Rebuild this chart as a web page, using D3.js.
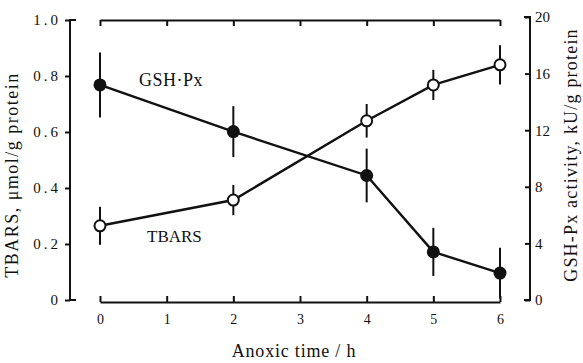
<!DOCTYPE html>
<html>
<head>
<meta charset="utf-8">
<script src="https://cdn.jsdelivr.net/npm/d3@7"></script>
<style>
  body { margin: 0; background: #fff; }
  text { font-family: "Liberation Serif", "DejaVu Serif", serif; fill: #111; }
</style>
</head>
<body>
<div id="chart"></div>
<script>
// anoxic time, h
const hours = [0, 2, 4, 5, 6];
// TBARS, umol/g protein (open circles, left axis)
const tbars = [0.265, 0.357, 0.64, 0.768, 0.84];
const tbarsErr = [0.068, 0.054, 0.06, 0.054, 0.07];
// GSH-Px activity, kU/g protein (filled circles, right axis)
const gsh = [15.2, 11.9, 8.8, 3.4, 1.9];
const gshErr = [2.3, 1.8, 1.9, 1.7, 1.8];

const xTicks = [0, 1, 2, 3, 4, 5, 6];
const leftTicks = [0, 0.2, 0.4, 0.6, 0.8, 1.0];
const rightTicks = [0, 4, 8, 12, 16, 20];

const width = 583, height = 363;

const svg = d3.select('#chart').append('svg')
    .attr('width', width)
    .attr('height', height);

const x = d3.scaleLinear().domain([0, 6]).range([100, 500]);
const yL = d3.scaleLinear().domain([0, 1]).range([300, 20]);
const yR = d3.scaleLinear().domain([0, 20]).range([300, 17]);

const ink = '#111';

// left axis
const leftAxis = svg.append('g')
    .attr('transform', 'translate(70,0)')
    .call(d3.axisLeft(yL).tickValues(leftTicks).tickSize(5).tickPadding(4)
        .tickFormat(d => d === 0 ? '0' : d3.format('.1f')(d)));
leftAxis.select('.domain').remove();
leftAxis.selectAll('text').style('font-size', '15px').style('letter-spacing', '3px');
svg.append('path')
    .attr('d', `M76,${yL(1)}H70V${yL(0)}H76`)
    .attr('fill', 'none').attr('stroke', ink).attr('stroke-width', 2);

// right axis
const rightAxis = svg.append('g')
    .attr('transform', 'translate(530,0)')
    .call(d3.axisRight(yR).tickValues(rightTicks).tickSizeInner(-5).tickSizeOuter(0).tickPadding(5));
rightAxis.select('.domain').remove();
rightAxis.selectAll('text').style('font-size', '15px');
svg.append('path')
    .attr('d', `M524,${yR(20)}H530V${yR(0)}H524`)
    .attr('fill', 'none').attr('stroke', ink).attr('stroke-width', 2);

// bottom axis
const bottomAxis = svg.append('g')
    .attr('transform', 'translate(0,302)')
    .call(d3.axisBottom(x).tickValues(xTicks).tickSizeInner(-6).tickSizeOuter(0).tickPadding(12)
        .tickFormat(d3.format('d')));
bottomAxis.selectAll('text').style('font-size', '14px');

// top axis
svg.append('g')
    .attr('transform', 'translate(0,20)')
    .call(d3.axisTop(x).tickValues(xTicks).tickSizeInner(-6).tickSizeOuter(0).tickFormat(''));

svg.selectAll('.domain').attr('stroke', ink).attr('stroke-width', 2);
svg.selectAll('.tick line').attr('stroke', ink).attr('stroke-width', 2);
svg.selectAll('.tick text').attr('fill', ink);

// error bars
const drawErr = (vals, errs, y, cls) => {
    svg.selectAll('.' + cls).data(hours).enter().append('line')
        .attr('class', cls)
        .attr('x1', d => x(d)).attr('x2', d => x(d))
        .attr('y1', (d, i) => y(vals[i] + errs[i]))
        .attr('y2', (d, i) => Math.min(y(vals[i] - errs[i]), 302))
        .attr('stroke', ink).attr('stroke-width', 2);
};
drawErr(gsh, gshErr, yR, 'gerr');
drawErr(tbars, tbarsErr, yL, 'terr');

const line = y => d3.line().x((d, i) => x(hours[i])).y(d => y(d));

svg.append('path').datum(gsh)
    .attr('d', line(yR))
    .attr('fill', 'none').attr('stroke', ink).attr('stroke-width', 2.4);
svg.append('path').datum(tbars)
    .attr('d', line(yL))
    .attr('fill', 'none').attr('stroke', ink).attr('stroke-width', 2.4);

svg.selectAll('.gdot').data(gsh).enter().append('circle')
    .attr('class', 'gdot')
    .attr('cx', (d, i) => x(hours[i])).attr('cy', d => yR(d))
    .attr('r', 6.5).attr('fill', ink);

svg.selectAll('.tdot').data(tbars).enter().append('circle')
    .attr('class', 'tdot')
    .attr('cx', (d, i) => x(hours[i])).attr('cy', d => yL(d))
    .attr('r', 5.5).attr('fill', '#fff').attr('stroke', ink).attr('stroke-width', 2);

// series labels
svg.append('text').attr('x', 139).attr('y', 86)
    .style('font-size', '18px').style('letter-spacing', '0.5px').text('GSH·Px');
svg.append('text').attr('x', 147).attr('y', 242)
    .style('font-size', '17px').text('TBARS');

// axis titles
svg.append('text')
    .attr('transform', 'translate(18,175) rotate(-90)')
    .attr('text-anchor', 'middle')
    .style('font-size', '18px').style('letter-spacing', '1.5px')
    .text('TBARS, μmol/g protein');
svg.append('text')
    .attr('transform', 'translate(577,155) rotate(-90)')
    .attr('text-anchor', 'middle')
    .style('font-size', '18px').style('letter-spacing', '1.2px')
    .text('GSH-Px activity, kU/g protein');
svg.append('text')
    .attr('x', 294).attr('y', 357)
    .attr('text-anchor', 'middle')
    .style('font-size', '18px').style('letter-spacing', '0.8px')
    .text('Anoxic time / h');
</script>
</body>
</html>
